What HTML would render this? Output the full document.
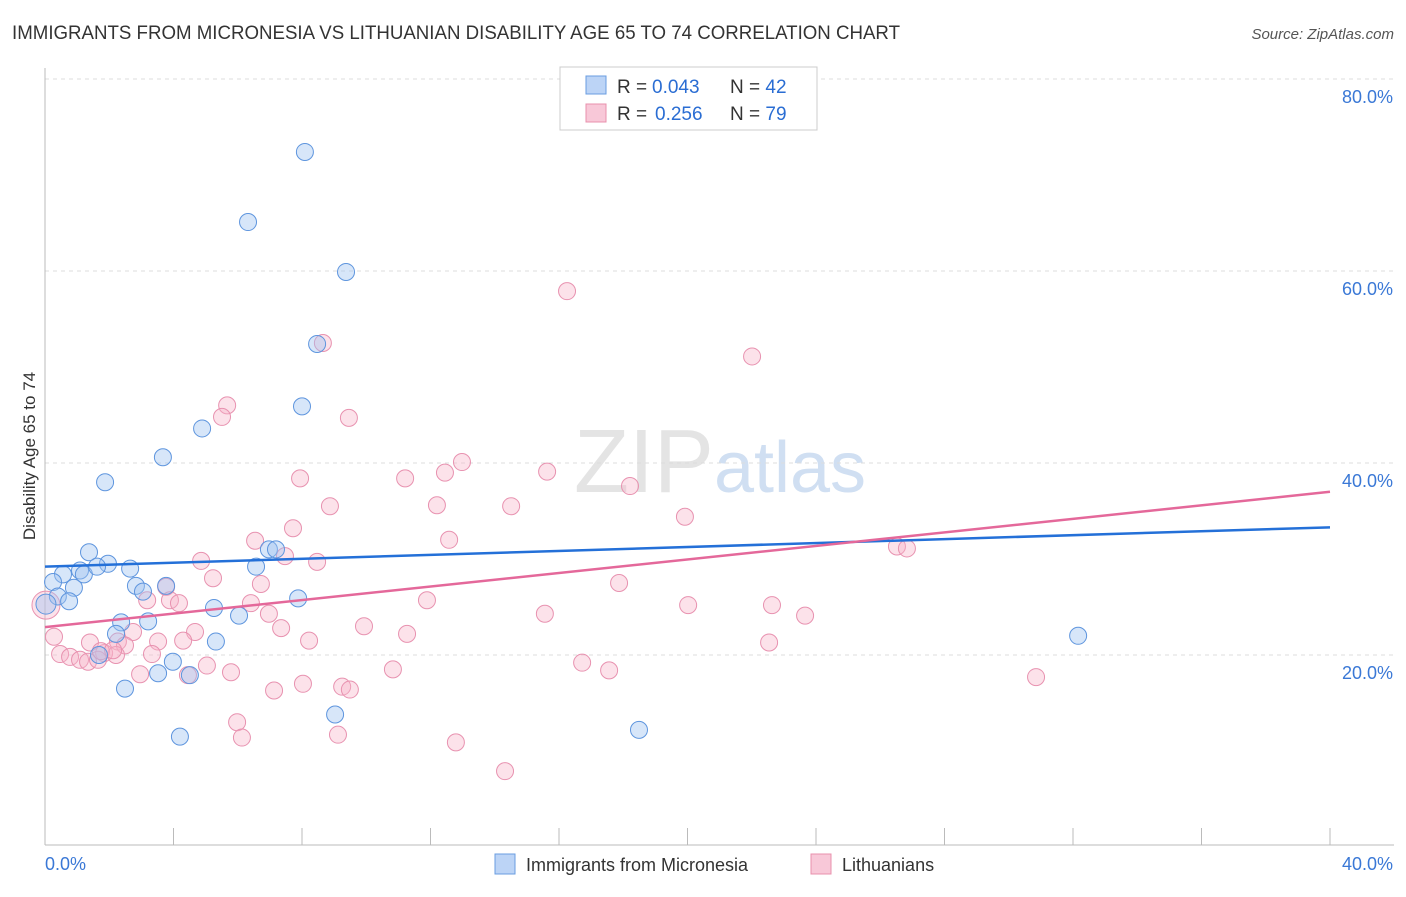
<!DOCTYPE html>
<html><head><meta charset="utf-8"><style>
body{margin:0;background:#fff;font-family:"Liberation Sans",sans-serif;}
svg text{font-family:"Liberation Sans",sans-serif;}
</style></head><body>
<svg id="c" width="1406" height="892">
<text x="12" y="39" font-size="19" fill="#333" textLength="888" lengthAdjust="spacingAndGlyphs">IMMIGRANTS FROM MICRONESIA VS LITHUANIAN DISABILITY AGE 65 TO 74 CORRELATION CHART</text>
<text x="1394" y="39" font-size="15" fill="#555" font-style="italic" text-anchor="end">Source: ZipAtlas.com</text>
<text x="35" y="456" font-size="17" fill="#333" text-anchor="middle" transform="rotate(-90 35 456)">Disability Age 65 to 74</text>
<text x="720" y="492" font-size="90" fill="#e4e4e4" text-anchor="middle" font-family="Liberation Serif">ZIP<tspan fill="#d0dff2" font-family="Liberation Sans" font-size="72">atlas</tspan></text>
<g id="grid"></g><g id="axes"></g><g id="pts"></g><g id="lines"></g>
<g>
<rect x="560" y="67" width="257" height="63" fill="#fff" stroke="#ccc"/>
<rect x="586" y="76" width="20" height="18" fill="#bcd4f6" stroke="#6a9de0"/>
<rect x="586" y="104" width="20" height="18" fill="#f8c8d8" stroke="#e890ac"/>
<text x="617" y="93" font-size="19" fill="#333">R = <tspan x="652" fill="#2a6dd3">0.043</tspan><tspan x="730">N = </tspan><tspan fill="#2a6dd3">42</tspan></text>
<text x="617" y="120" font-size="19" fill="#333">R = <tspan x="655" fill="#2a6dd3">0.256</tspan><tspan x="730">N = </tspan><tspan fill="#2a6dd3">79</tspan></text>
</g>
<g>
<rect x="495" y="854" width="20" height="20" fill="#bcd4f6" stroke="#6a9de0"/>
<text x="526" y="871" font-size="18" fill="#333">Immigrants from Micronesia</text>
<rect x="811" y="854" width="20" height="20" fill="#f8c8d8" stroke="#e890ac"/>
<text x="842" y="871" font-size="18" fill="#333">Lithuanians</text>
</g>
</svg>
<script>
const blueX=[8.09,6.32,9.37,8.47,8.0,4.89,3.67,1.87,1.37,1.96,2.65,0.56,1.09,1.21,1.62,0.25,0.90,0.40,0.03,0.75,2.83,3.05,3.77,6.97,7.19,6.57,7.88,5.26,6.04,3.21,2.37,2.21,1.68,3.98,3.52,4.51,5.32,2.49,9.03,4.2,18.49,32.16];
const blueY=[72.4,65.1,59.9,52.4,45.9,43.6,40.6,38.0,30.7,29.5,29.0,28.4,28.8,28.4,29.2,27.6,27.0,26.1,25.3,25.6,27.2,26.6,27.2,31.0,31.0,29.2,25.9,24.9,24.1,23.5,23.4,22.2,20.0,19.3,18.1,17.9,21.4,16.5,13.8,11.5,12.2,22.0];
const pinkX=[16.25,22.01,8.65,5.67,5.51,9.46,12.98,12.45,15.63,11.21,7.94,18.21,8.87,12.20,14.51,19.92,7.72,12.58,6.54,26.52,26.83,7.47,4.86,8.47,5.23,6.72,17.87,3.77,3.18,3.89,4.17,11.89,6.41,20.02,22.63,15.56,23.66,6.97,9.93,7.35,11.27,2.74,4.67,4.30,8.22,3.52,1.40,2.27,2.49,1.84,22.54,0.47,0.78,1.09,1.34,1.65,3.33,2.21,5.04,10.83,16.72,17.56,2.96,5.79,4.45,30.85,8.03,9.25,7.13,9.49,5.98,6.13,9.12,12.79,14.32,0.28,0.03,1.74,2.12];
const pinkY=[57.9,51.1,52.5,46.0,44.8,44.7,40.1,39.0,39.1,38.4,38.4,37.6,35.5,35.6,35.5,34.4,33.2,32.0,31.9,31.3,31.1,30.3,29.8,29.7,28.0,27.4,27.5,27.1,25.7,25.7,25.4,25.7,25.4,25.2,25.2,24.3,24.1,24.3,23.0,22.8,22.2,22.4,22.4,21.5,21.5,21.4,21.3,21.4,21.0,20.2,21.3,20.1,19.8,19.5,19.3,19.5,20.1,20.0,18.9,18.5,19.2,18.4,18.0,18.2,17.9,17.7,17.0,16.7,16.3,16.4,13.0,11.4,11.7,10.9,7.9,21.9,25.2,20.4,20.5];
const trendX=[0,40];
const blueTrendY=[29.2,33.3];
const pinkTrendY=[22.9,37.0];
const yTicks=[20,40,60,80];
const yTickLabels=["20.0%","40.0%","60.0%","80.0%"];
const xTicks=[0,4,8,12,16,20,24,28,32,36,40];
const xTickLabels=["0.0%","40.0%"];

const sx=v=>45+v*(1285/40);
const sy=v=>847-v*9.6;
const NS="http://www.w3.org/2000/svg";
function mk(tag,attrs,parent){const e=document.createElementNS(NS,tag);for(const k in attrs)e.setAttribute(k,attrs[k]);parent.appendChild(e);return e;}
const grid=document.getElementById('grid'),axes=document.getElementById('axes'),pts=document.getElementById('pts'),lines=document.getElementById('lines');
yTicks.forEach((t,i)=>{
  const l=mk('line',{x1:45,x2:1394,y1:sy(t),y2:sy(t),stroke:'#ddd','stroke-dasharray':'4,4'},grid);
  
  
  const tx=mk('text',{x:1393,y:sy(t)+24,'font-size':18,fill:'#3a78d6','text-anchor':'end'},axes);
  tx.textContent=yTickLabels[i];
  
  
});
const ax=mk('line',{x1:45,x2:1394,y1:845,y2:845,stroke:'#bbb'},axes);


const ay=mk('line',{x1:45,x2:45,y1:68,y2:845,stroke:'#bbb'},axes);


xTicks.forEach(t=>{
  const l=mk('line',{x1:sx(t),x2:sx(t),y1:828,y2:845,stroke:'#bbb'},axes);
  
  
});
const xl0=mk('text',{x:45,y:870,'font-size':18,fill:'#3a78d6'},axes);
xl0.textContent=xTickLabels[0];


const xl1=mk('text',{x:1393,y:870,'font-size':18,fill:'#3a78d6','text-anchor':'end'},axes);
xl1.textContent=xTickLabels[1];


function dots(X,Y,fill,stroke,name){X.forEach((x,i)=>{
  const r=(x<0.1)?(name==='lithuanian-point'?14:10):8.5;
  const c=mk('circle',{cx:sx(x),cy:sy(Y[i]),r:r,fill:fill,stroke:stroke,'stroke-width':1},pts);
  
  
});}
dots(pinkX,pinkY,'rgba(246,178,200,0.38)','#e892b0','lithuanian-point');
dots(blueX,blueY,'rgba(160,196,240,0.42)','#5e95de','micronesia-point');
const bl=mk('line',{x1:sx(trendX[0]),x2:sx(trendX[1]),y1:sy(blueTrendY[0]),y2:sy(blueTrendY[1]),stroke:'#2470d8','stroke-width':2.5},lines);


const pl=mk('line',{x1:sx(trendX[0]),x2:sx(trendX[1]),y1:sy(pinkTrendY[0]),y2:sy(pinkTrendY[1]),stroke:'#e4689a','stroke-width':2.5},lines);


</script>
</body></html>
